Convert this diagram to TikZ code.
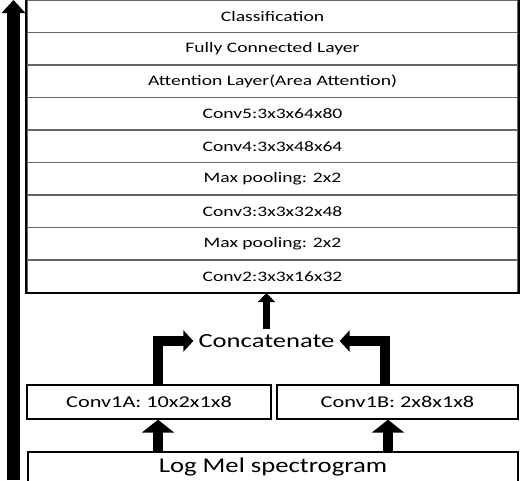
\documentclass[tikz,border=0pt]{standalone}
\usepackage{fontspec}
\setmainfont{Carlito}
\newfontfamily\stackfont[FakeStretch=1.35]{Carlito}
\newfontfamily\convfont[FakeStretch=1.35]{Carlito}
\newfontfamily\catfont[FakeStretch=1.33]{Carlito}
\newfontfamily\melfont[FakeStretch=1.27]{Carlito}
\usetikzlibrary{arrows.meta}
\begin{document}
\begin{tikzpicture}[x=1pt,y=-1pt,
  row/.style={draw=black!60, line width=1.2pt, minimum width=491pt, minimum height=32.5pt,
    inner sep=0pt, font=\stackfont\fontsize{14.5}{16}\selectfont},
  convbox/.style={draw=black, line width=1.4pt, minimum height=34pt, inner sep=0pt,
    font=\convfont\fontsize{16.5}{18}\selectfont},
  fatarrow/.style={line width=10pt, line join=miter, -{Triangle[width=32pt,length=13pt]}},
  elbow/.style={line width=10pt, line join=miter, -{Triangle[width=21pt,length=10pt]}},
  thinarrow/.style={line width=7pt, -{Triangle[width=17pt,length=9pt]}},
  bigarrow/.style={line width=13pt, -{Triangle[width=23pt,length=13pt]}}
]
\useasboundingbox (0,0) rectangle (520,480);
\node[row] (r1) at (272.5,16.25) {Classification};
\node[row] (r2) at (272.5,48.75) {Fully Connected Layer};
\node[row] (r3) at (272.5,81.25) {Attention Layer(Area Attention)};
\node[row] (r4) at (272.5,113.75) {Conv5:3x3x64x80};
\node[row] (r5) at (272.5,146.25) {Conv4:3x3x48x64};
\node[row] (r6) at (272.5,178.75) {Max pooling: 2x2};
\node[row] (r7) at (272.5,211.25) {Conv3:3x3x32x48};
\node[row] (r8) at (272.5,243.75) {Max pooling: 2x2};
\node[row] (r9) at (272.5,276.25) {Conv2:3x3x16x32};
\draw[line width=2pt] (r1.north west) rectangle (r9.south east);

\node[font=\catfont\fontsize{20}{22}\selectfont, inner sep=5pt] (concat) at (266.5,341) {Concatenate};

\node[convbox, minimum width=244pt] (c1a) at (149,402) {Conv1A: 10x2x1x8};
\node[convbox, minimum width=241pt] (c1b) at (397.5,402) {Conv1B: 2x8x1x8};

\node[draw=black, line width=1.4pt, minimum width=490pt, minimum height=30pt, inner sep=0pt,
  font=\melfont\fontsize{21}{23}\selectfont] (mel) at (273,467) {Log Mel spectrogram};

\coordinate (bigbot) at (13.5,480);
\coordinate (bigtop) at (13.5,0);
\draw[bigarrow] (bigbot) -- (bigtop);

\draw[fatarrow] ([xshift=9pt]c1a.south |- mel.north) -- ([xshift=9pt]c1a.south);
\draw[fatarrow] ([xshift=-9.5pt]c1b.south |- mel.north) -- ([xshift=-9.5pt]c1b.south);

\draw[elbow] ([xshift=9pt]c1a.north) |- (concat.west);
\draw[elbow] ([xshift=-12.5pt]c1b.north) |- (concat.east);

\draw[thinarrow] (concat.north) -- (concat.north |- r9.south);
\end{tikzpicture}
\end{document}
